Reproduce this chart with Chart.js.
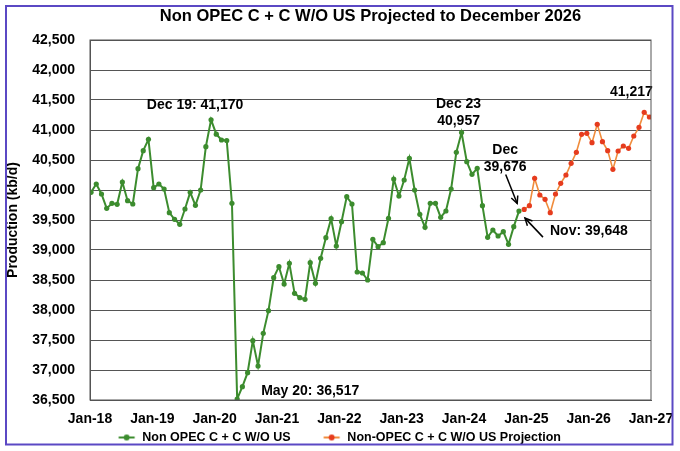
<!DOCTYPE html>
<html>
<head>
<meta charset="utf-8">
<script src="https://cdn.jsdelivr.net/npm/chart.js@4.4.1/dist/chart.umd.min.js"></script>
<style>
html,body{margin:0;padding:0;background:#fff;}
#wrap{width:680px;height:451px;}
</style>
</head>
<body>
<div id="wrap"><canvas id="c" width="680" height="451"></canvas></div>
<script>
// ---- data ----
const tickLabels = ['Jan-18','Jan-19','Jan-20','Jan-21','Jan-22','Jan-23','Jan-24','Jan-25','Jan-26','Jan-27'];
const seriesNames = ['Non OPEC C + C W/O US', 'Non-OPEC C + C W/O US Projection'];
const historyStartMonth = 0;      // Jan-18
const projectionStartMonth = 83;  // Dec-24
const historyValues = [
  39961, 40100, 39933, 39694, 39778, 39761, 40133, 39822, 39767, 40356, 40656, 40844,
  40039, 40100, 40017, 39622, 39511, 39428, 39683, 39961, 39744, 40000, 40722, 41170,
  40930, 40833, 40825, 39778, 36517, 36722, 36955, 37489, 37067, 37611, 37989, 38539,
  38722, 38433, 38778, 38278, 38206, 38178, 38789, 38444, 38861, 39206, 39522, 39067,
  39472, 39889, 39767, 38633, 38617, 38500, 39178, 39056, 39122, 39528, 40183, 39900,
  40167, 40528, 40000, 39594, 39378, 39778, 39778, 39544, 39650, 40017, 40628, 40957,
  40472, 40261, 40361, 39739, 39211, 39333, 39233, 39306, 39094, 39389, 39648
];
const projectionValues = [
  39676,
  39739, 40194, 39917, 39844, 39622, 39933, 40111, 40250, 40444, 40628, 40928, 40944,
  40789, 41094, 40806, 40656, 40344, 40650, 40733, 40694, 40900, 41044, 41294, 41217
];
const titleText = 'Non OPEC C + C W/O US Projected to December 2026';
const yTitle = 'Production (kb/d)';

// ---- styling ----
const FONT = "'Liberation Sans', Arial, Helvetica, sans-serif";
const GREEN = '#3c8c2e';
const RED_PT = '#e63c1e';
const ORANGE_LN = '#f08c3c';
const GRID = '#555555';
const FRAME = '#5b48c4';
const LEGEND_BOX = 46;

const historyPoints = historyValues.map((v, i) => ({x: historyStartMonth + i, y: v}));
const projectionPoints = projectionValues.map((v, i) => ({x: projectionStartMonth + i, y: v}));

function legendIcon(lineColor, pointColor) {
  const c = document.createElement('canvas');
  c.width = LEGEND_BOX; c.height = 8;
  const g = c.getContext('2d');
  const cx = LEGEND_BOX + 6.25 - 15.7;
  g.strokeStyle = lineColor; g.lineWidth = 2;
  g.beginPath(); g.moveTo(cx - 8, 4); g.lineTo(cx + 8, 4); g.stroke();
  g.fillStyle = pointColor;
  g.beginPath(); g.arc(cx, 4, 3, 0, Math.PI * 2); g.fill();
  return c;
}
const icons = [legendIcon(GREEN, GREEN), legendIcon(ORANGE_LN, RED_PT)];

const framePlugin = {
  id: 'frame',
  beforeDraw(chart) {
    const ctx = chart.ctx;
    ctx.save();
    ctx.fillStyle = '#fff';
    ctx.fillRect(0, 0, chart.width, chart.height);
    ctx.restore();
  },
  afterDraw(chart) {
    const ctx = chart.ctx;
    const a = chart.chartArea;
    ctx.save();
    ctx.strokeStyle = GRID; ctx.lineWidth = 1;
    ctx.strokeRect(a.left, a.top, a.right - a.left, a.bottom - a.top);
    ctx.strokeStyle = FRAME; ctx.lineWidth = 2;
    ctx.strokeRect(6, 6, 666.5, 438.5);
    ctx.restore();
  }
};

function arrow(ctx, x1, y1, x2, y2) {
  ctx.beginPath(); ctx.moveTo(x1, y1); ctx.lineTo(x2, y2); ctx.stroke();
  const ang = Math.atan2(y2 - y1, x2 - x1);
  const L = 8, s = 0.45;
  ctx.beginPath();
  ctx.moveTo(x2 - L * Math.cos(ang - s), y2 - L * Math.sin(ang - s));
  ctx.lineTo(x2, y2);
  ctx.lineTo(x2 - L * Math.cos(ang + s), y2 - L * Math.sin(ang + s));
  ctx.stroke();
}

const notesPlugin = {
  id: 'notes',
  afterDatasetsDraw(chart) {
    const ctx = chart.ctx;
    const h = chart.getDatasetMeta(0).data;
    const p = chart.getDatasetMeta(1).data;
    const fmt = v => v.toLocaleString('en-US');
    ctx.save();
    ctx.fillStyle = '#000';
    ctx.strokeStyle = '#000';
    ctx.lineWidth = 1.5;
    ctx.font = 'bold 14px ' + FONT;
    ctx.textBaseline = 'middle';
    // Dec 19 peak
    const i19 = 23;
    ctx.textAlign = 'center';
    ctx.fillText('Dec 19: ' + fmt(historyValues[i19]), h[i19].x - 16, h[i19].y - 15);
    // May 20 trough
    const i20 = 28;
    ctx.textAlign = 'left';
    ctx.fillText('May 20: ' + fmt(historyValues[i20]), h[i20].x + 24, h[i20].y - 8);
    // Dec 23 peak
    const i23 = 71;
    ctx.textAlign = 'center';
    ctx.fillText('Dec 23', h[i23].x - 3, h[i23].y - 28);
    ctx.fillText(fmt(historyValues[i23]), h[i23].x - 3, h[i23].y - 11);
    // Dec 24 (projection start)
    const d = p[0];
    ctx.fillText('Dec', d.x - 19, d.y - 59);
    ctx.fillText(fmt(projectionValues[0]), d.x - 19, d.y - 42);
    arrow(ctx, d.x - 18.5, d.y - 35, d.x - 7, d.y - 6);
    // Nov 24 (last actual)
    const n = h[h.length - 1];
    ctx.textAlign = 'left';
    ctx.fillText('Nov: ' + fmt(historyValues[historyValues.length - 1]), n.x + 31, n.y + 20);
    arrow(ctx, n.x + 24, n.y + 26, n.x + 6, n.y + 7);
    // Dec 26 end
    const e = p[p.length - 1];
    ctx.textAlign = 'center';
    ctx.fillText(fmt(projectionValues[projectionValues.length - 1]), e.x - 18, e.y - 25);
    ctx.restore();
  }
};

const tickFont = {family: FONT, size: 14, weight: 'bold'};

new Chart(document.getElementById('c'), {
  type: 'line',
  data: {
    datasets: [
      {
        label: seriesNames[0], data: historyPoints,
        borderColor: GREEN, backgroundColor: GREEN,
        pointBackgroundColor: GREEN, pointBorderColor: GREEN,
        pointRadius: 2.6, pointBorderWidth: 0, borderWidth: 2, tension: 0
      },
      {
        label: seriesNames[1], data: projectionPoints,
        borderColor: ORANGE_LN, backgroundColor: RED_PT,
        pointBackgroundColor: RED_PT, pointBorderColor: RED_PT,
        pointRadius: 2.6, pointBorderWidth: 0, borderWidth: 1.6, tension: 0
      }
    ]
  },
  options: {
    responsive: false,
    animation: false,
    devicePixelRatio: 1,
    layout: {padding: {left: 0, right: 29, top: 0, bottom: -2.75}},
    plugins: {
      title: {
        display: true, text: titleText, fullSize: false, color: '#000',
        font: {family: FONT, size: 16.5, weight: 'bold'},
        padding: {top: 7, bottom: 13.2}
      },
      legend: {
        position: 'bottom',
        labels: {
          usePointStyle: true, pointStyleWidth: LEGEND_BOX, padding: 4.5, color: '#000',
          font: {family: FONT, size: 12.5, weight: 'bold'},
          generateLabels: (chart) => Chart.defaults.plugins.legend.labels.generateLabels(chart)
            .map((l, i) => Object.assign(l, {pointStyle: icons[i]}))
        }
      },
      tooltip: {enabled: false}
    },
    scales: {
      x: {
        type: 'linear', min: -0.2, max: 107.3,
        afterBuildTicks: (s) => { s.ticks = tickLabels.map((_, k) => ({value: -0.2 + k * (107.5 / 9)})); },
        afterFit: (s) => { s.height = 26.75; },
        grid: {drawOnChartArea: false, drawTicks: true, tickLength: 5, tickColor: 'rgba(0,0,0,0)', color: GRID},
        border: {color: GRID},
        ticks: {
          callback: (v, i) => tickLabels[i], font: tickFont, color: '#000',
          padding: 5.5, maxRotation: 0, autoSkip: false
        }
      },
      y: {
        min: 36500, max: 42500,
        afterFit: (s) => { s.width = 90; },
        grid: {color: GRID, drawTicks: false},
        border: {color: GRID},
        ticks: {stepSize: 500, callback: (v) => v.toLocaleString('en-US'), padding: 15, font: tickFont, color: '#000'},
        title: {display: true, text: yTitle, color: '#000', font: {family: FONT, size: 14, weight: 'bold'}, padding: {top: 5, bottom: 0}}
      }
    }
  },
  plugins: [framePlugin, notesPlugin]
});
</script>
</body>
</html>
